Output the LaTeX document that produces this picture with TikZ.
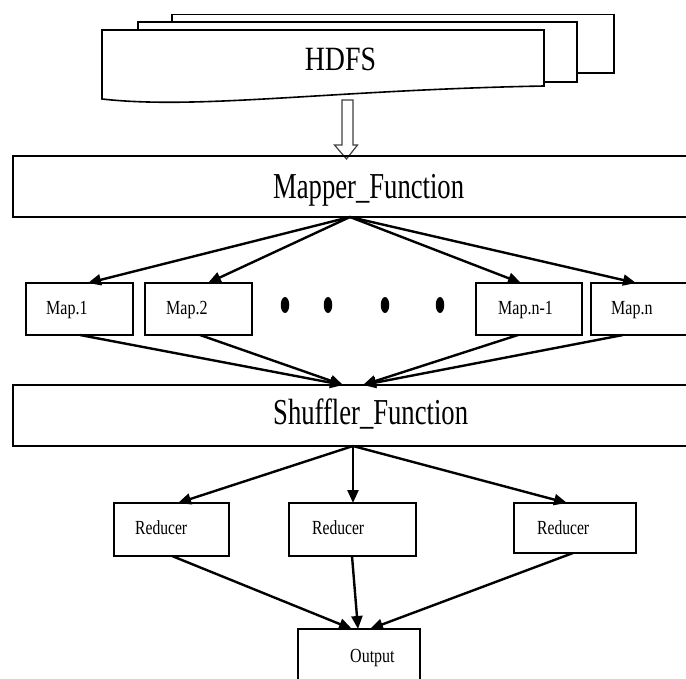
\documentclass[tikz,border=0pt]{standalone}
\usepackage{fontspec}
\setmainfont{Liberation Serif}
\usetikzlibrary{arrows.meta,calc,shapes.geometric}
\begin{document}
\begin{tikzpicture}[x=1pt,y=-1pt,
  box/.style={draw,line width=2pt,inner sep=0pt,outer sep=0pt},
  sheet/.style={draw,line width=1.6pt,fill=white},
  arr/.style={-{Triangle[length=13pt,width=11pt]},line width=2.4pt},
  small/.style={inner sep=0pt,anchor=base west,font=\fontsize{20}{24}\selectfont},
  big/.style={inner sep=0pt,anchor=base west,font=\fontsize{36.5}{40}\selectfont},
  dot/.style={fill=black,ellipse,inner sep=0pt,minimum width=8.5pt,minimum height=16pt}]
\useasboundingbox (0,0) rectangle (686,679);
\clip (0,0) rectangle (686,679);
% HDFS stacked documents
\draw[sheet] (172,14.5) rectangle (614,73);
\draw[sheet] (138,22) rectangle (577,82);
\draw[sheet] (102,30) -- (544,30) -- (544,86)
  .. controls (330,90) and (200,110) .. (102,99) -- cycle;
\node[inner sep=0pt,anchor=base,font=\fontsize{34}{40}\selectfont] (hdfs) at (340.5,71) {\scalebox{0.82}[1]{HDFS}};
% hollow arrow
\coordinate (harr) at (347.5,100);
\draw[line width=1.2pt,draw=black!75,fill=white]
  ($(harr)+(-5.5,0)$) -- ($(harr)+(5.5,0)$) -- ($(harr)+(5.5,45)$) -- ($(harr)+(10,45)$)
  -- ($(harr)+(-1,59)$) -- ($(harr)+(-13,45)$) -- ($(harr)+(-5.5,45)$) -- cycle;
% main boxes
\node[box,minimum width=687pt,minimum height=61pt] (mapper) at (356.5,186.5) {};
\node[big] (mappert) at (273,199) {\scalebox{0.73}[1]{Mapper\_Function}};
\node[box,minimum width=107pt,minimum height=52pt] (m1) at (79.5,309) {};
\node[box,minimum width=107pt,minimum height=52pt] (m2) at (198.5,309) {};
\node[box,minimum width=106pt,minimum height=52pt] (mn1) at (529,309) {};
\node[box,minimum width=109pt,minimum height=52pt] (mn) at (645.5,309) {};
\node[small] (m1t) at (46,315) {\scalebox{0.8}[1]{Map.1}};
\node[small] (m2t) at (166,315) {\scalebox{0.8}[1]{Map.2}};
\node[small] (mn1t) at (498,315) {\scalebox{0.8}[1]{Map.n-1}};
\node[small] (mnt) at (611,315) {\scalebox{0.8}[1]{Map.n}};
\node[dot] (d1) at (285,305) {};
\node[dot] (d2) at (328,305) {};
\node[dot] (d3) at (385,305) {};
\node[dot] (d4) at (440,305) {};
\node[box,minimum width=687pt,minimum height=61pt] (shuf) at (356.5,415.5) {};
\node[big] (shuft) at (273,424) {\scalebox{0.73}[1]{Shuffler\_Function}};
\node[box,minimum width=115pt,minimum height=53pt] (r1) at (171.5,529.5) {};
\node[box,minimum width=127pt,minimum height=53pt] (r2) at (352.5,529.5) {};
\node[box,minimum width=122pt,minimum height=50pt] (r3) at (575,528) {};
\node[small] (r1t) at (135,534) {\scalebox{0.78}[1]{Reducer}};
\node[small] (r2t) at (312,534) {\scalebox{0.78}[1]{Reducer}};
\node[small] (r3t) at (537,534) {\scalebox{0.78}[1]{Reducer}};
\node[box,minimum width=122pt,minimum height=71pt] (out) at (359,664.5) {};
\node[small] (outt) at (350,662) {\scalebox{0.8}[1]{Output}};
% mapper -> maps
\coordinate (ms) at ($(mapper.south west)+(337,0)$);
\draw[arr] (ms) -- ($(m1.north west)+(62,0)$);
\draw[arr] (ms) -- ($(m2.north west)+(63,0)$);
\draw[arr] (ms) -- ($(mn1.north west)+(45,0)$);
\draw[arr] (ms) -- ($(mn.north west)+(45,0)$);
% maps -> shuffler
\draw[arr] ($(m1.south west)+(54,0)$) -- ($(shuf.north west)+(330,0)$);
\draw[arr] ($(m2.south west)+(55,0)$) -- ($(shuf.north west)+(330,0)$);
\draw[arr] ($(mn1.south west)+(42,0)$) -- ($(shuf.north west)+(350,0)$);
\draw[arr] ($(mn.south west)+(32,0)$) -- ($(shuf.north west)+(350,0)$);
% shuffler -> reducers
\coordinate (ss) at ($(shuf.south west)+(340,0)$);
\draw[arr] (ss) -- ($(r1.north west)+(64,0)$);
\draw[arr] (ss) -- ($(r2.north west)+(64,0)$);
\draw[arr] (ss) -- ($(r3.north west)+(53,0)$);
% reducers -> output
\draw[arr] ($(r1.south west)+(58,0)$) -- ($(out.north west)+(54,0)$);
\draw[arr] ($(r2.south west)+(63,0)$) -- ($(out.north west)+(60,0)$);
\draw[arr] ($(r3.south west)+(59,0)$) -- ($(out.north west)+(72,0)$);
\end{tikzpicture}
\end{document}
